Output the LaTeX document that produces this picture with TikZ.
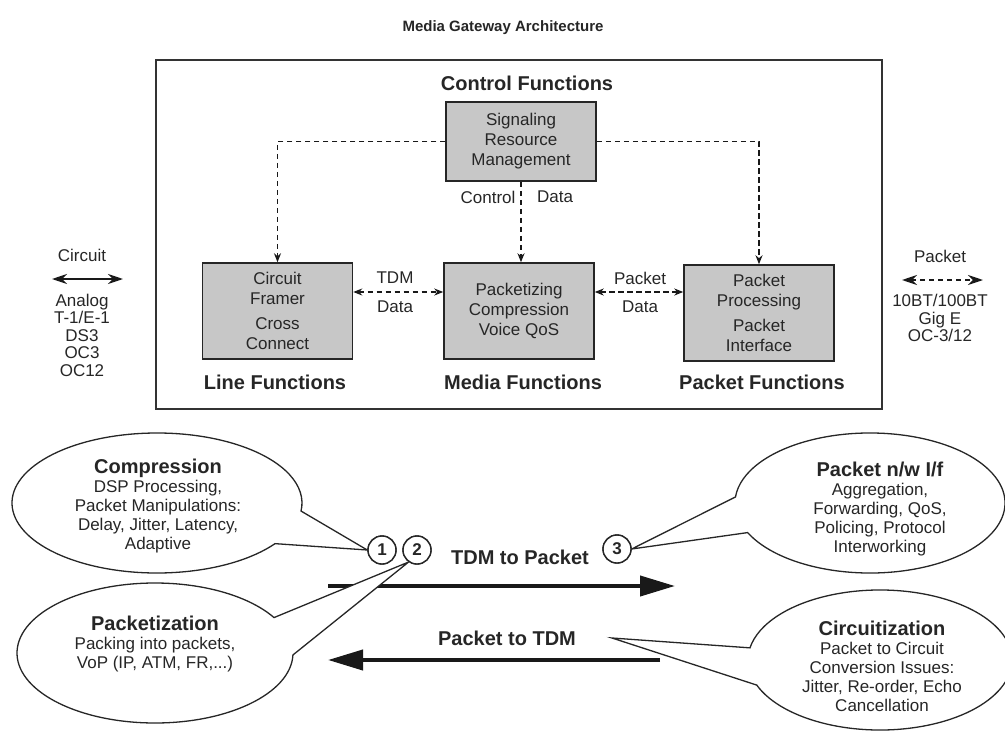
\documentclass[tikz,border=0pt]{standalone}
\usepackage{fontspec}
\setmainfont{Liberation Sans}
\usetikzlibrary{arrows.meta}
\newcommand\bodyf{\fontsize{17}{20}\selectfont}
\newcommand\callf{\fontsize{17}{19}\selectfont}
\newcommand\sidef{\fontsize{17}{17.5}\selectfont}
\newcommand\hdf{\bfseries\fontsize{20}{24}\selectfont}
\newcommand\titlef{\bfseries\fontsize{15}{18}\selectfont}
\begin{document}
\begin{tikzpicture}[x=1pt,y=-1pt,
  every node/.style={inner sep=0pt, font=\bodyf, align=center, text=black!85},
  gbox/.style={draw=black!85, line width=1.5pt, fill=black!22, minimum width=150pt, minimum height=96pt},
  hd/.style={font=\hdf},
  dsh/.style={draw=black!90, line width=1.9pt, dash pattern=on 5.5pt off 3.5pt},
  sarr/.style={-{Stealth[length=9pt,width=7pt]}},
  darr/.style={{Stealth[length=9pt,width=7pt]}-{Stealth[length=9pt,width=7pt]}},
  carr/.style={line width=2pt, draw=black!90, {Stealth[length=15pt,width=10pt]}-{Stealth[length=15pt,width=10pt]}},
  bigarr/.style={line width=4pt, draw=black!90, -{Triangle[length=35pt,width=20pt]}},
  co/.style={draw=black!85, line width=1.3pt, fill=white, line join=miter},
  num/.style={circle, draw=black!85, line width=1.4pt, fill=white, minimum size=28pt, font=\bfseries\fontsize{17}{20}\selectfont},
  callt/.style={font=\callf}
]
\useasboundingbox (0,0) rectangle (1005,731);

% title
\node[font=\titlef] (title) at (503,28) {Media Gateway Architecture};

% outer frame
\node[draw=black!80, line width=1.5pt, minimum width=726pt, minimum height=349pt] (frame) at (519,234.5) {};

% headings
\node[hd] (ctlh) at (527,83) {Control Functions};
\node[hd] (lineh) at (275,382) {Line Functions};
\node[hd] (mediah) at (523,382) {Media Functions};
\node[hd] (pkth) at (762,382) {Packet Functions};

% boxes
\node[gbox, minimum height=79pt] (sig) at (521,141.5) {Signaling\\Resource\\Management};
\node[gbox] (cf) at (277.5,311) {Circuit\\Framer\\[5pt]Cross\\Connect};
\node[gbox] (mf) at (519,311) {Packetizing\\Compression\\Voice QoS};
\node[gbox] (pp) at (759,313) {Packet\\Processing\\[5pt]Packet\\Interface};

% control dashed connections
\draw[dsh, sarr] (sig.west) -| (cf.north);
\draw[dsh, sarr] (sig.east) -| (pp.north);
\draw[dsh, sarr] (sig.south) -- (sig.south |- mf.north);
\node (ctl) at (488,197) {Control};
\node (ctld) at (555,197) {Data};

% data dashed connections
\coordinate (ly) at (0,292);
\draw[dsh, darr] (cf.east |- ly) -- (mf.west |- ly);
\draw[dsh, darr] (mf.east |- ly) -- (pp.west |- ly);
\node (tdm) at (395,278) {TDM};
\node (tdmd) at (395,307) {Data};
\node (pkt) at (640,278) {Packet};
\node (pktd) at (640,307) {Data};

% left side
\node (circ) at (82,255) {Circuit};
\coordinate (ca1) at (52,279);
\coordinate (ca2) at (123,279);
\draw[carr] (ca1) -- (ca2);
\node[font=\sidef] (circl) at (82,335) {Analog\\T-1/E-1\\DS3\\OC3\\OC12};

% right side
\node (pktr) at (940,256) {Packet};
\coordinate (pa1) at (902,280);
\coordinate (pa2) at (983,280);
\draw[carr, dash pattern=on 5pt off 4pt, line width=2pt] (pa1) -- (pa2);
\node[font=\sidef] (pktl) at (940,318) {10BT/100BT\\Gig E\\OC-3/12};

% big arrows
\coordinate (r1) at (328,586);
\coordinate (r2) at (675,586);
\draw[bigarr] (r1) -- (r2);
\coordinate (l1) at (660,660);
\coordinate (l2) at (328,660);
\draw[bigarr] (l1) -- (l2);
\node[hd] (tdm2pkt) at (520,557) {TDM to Packet};
\node[hd] (pkt2tdm) at (507,638) {Packet to TDM};

% numbered circles
\node[num] (c1) at (382,550) {1};
\node[num] (c2) at (417,550) {2};
\node[num] (c3) at (617,549) {3};
\coordinate (tip4) at (612,638);

% callouts
\draw[co] (157,503) ++(35.5:145 and 70) arc[start angle=35.5, end angle=366.6, x radius=145, y radius=70] -- (c1.west) -- cycle;
\draw[co] (155,653) ++(1.6:138 and 70) arc[start angle=1.6, end angle=329.6, x radius=138, y radius=70] -- (c2.235) -- cycle;
\draw[co] (870,503) ++(155:135 and 70) arc[start angle=155, end angle=-175, x radius=135, y radius=70] -- (c3.east) -- cycle;
\draw[co] (880,660) ++(159:132 and 70) arc[start angle=159, end angle=-170, x radius=132, y radius=70] -- (tip4) -- cycle;

% redraw circles on top
\node[num] at (c1) {1};
\node[num] at (c2) {2};
\node[num] at (c3) {3};

% callout texts
\node[callt] (t1) at (158,506) {{\hdf Compression}\\DSP Processing,\\Packet Manipulations:\\Delay, Jitter, Latency,\\Adaptive};
\node[callt] (t2) at (155,644) {{\hdf Packetization}\\Packing into packets,\\VoP (IP, ATM, FR,...)};
\node[callt] (t3) at (880,509) {{\hdf Packet n/w I/f}\\Aggregation,\\Forwarding, QoS,\\Policing, Protocol\\Interworking};
\node[callt] (t4) at (882,666) {{\hdf Circuitization}\\Packet to Circuit\\Conversion Issues:\\Jitter, Re-order, Echo\\Cancellation};
\end{tikzpicture}
\end{document}
